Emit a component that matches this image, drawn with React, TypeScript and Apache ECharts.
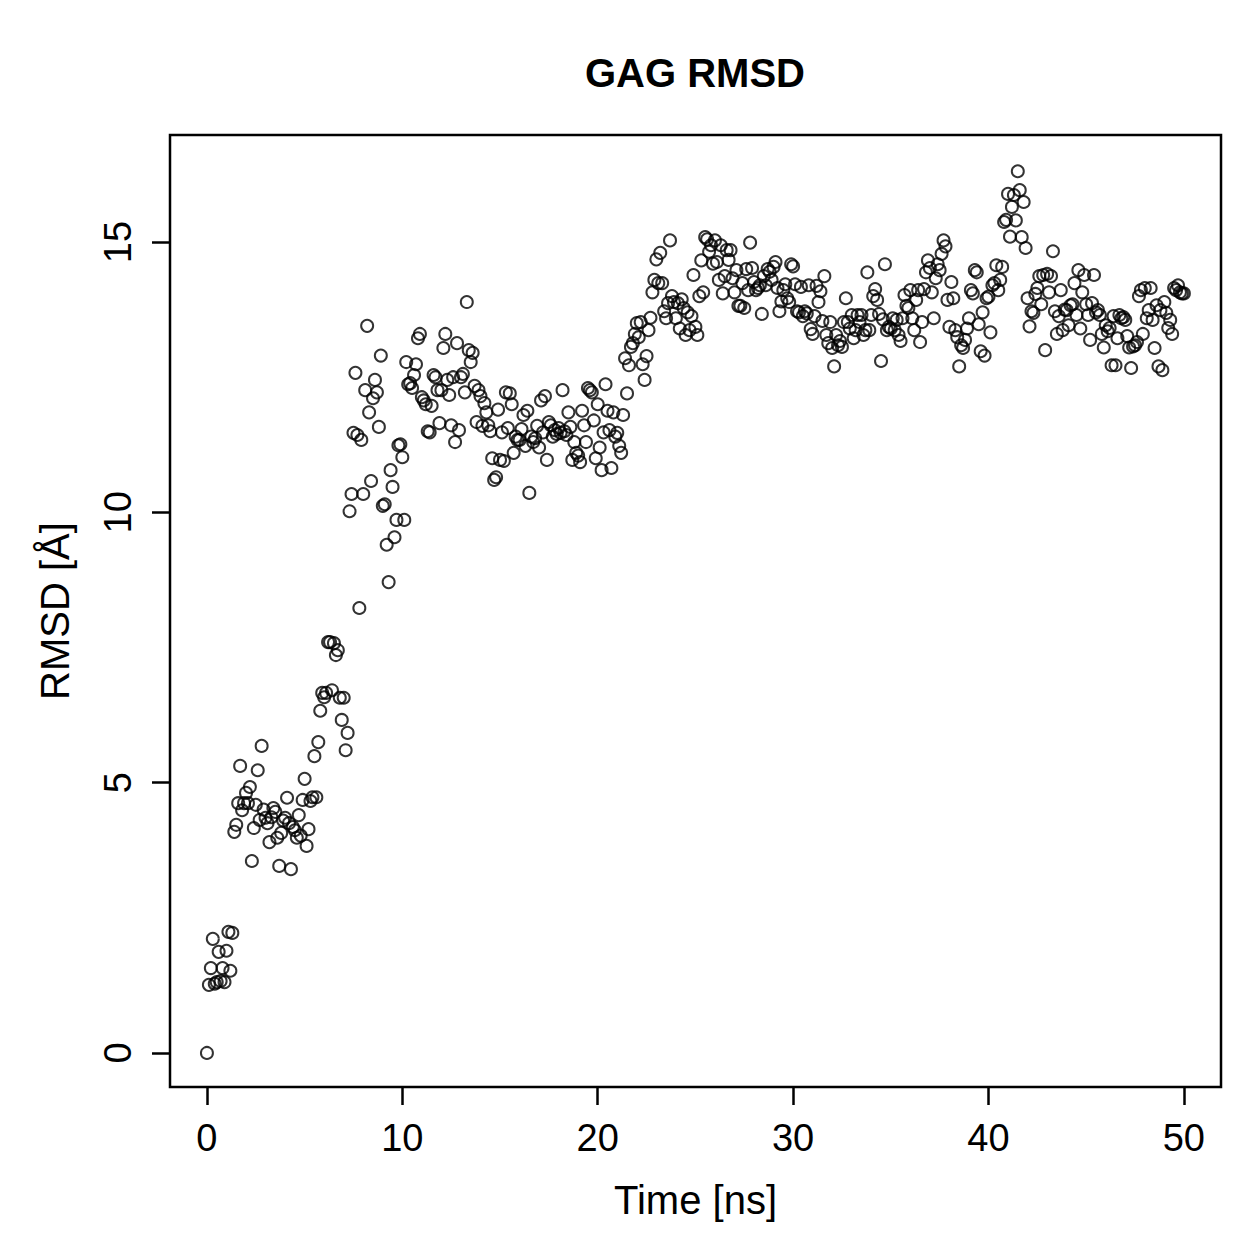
import React, { useEffect, useRef } from "react";
import * as echarts from "echarts";

// Sampling step of the trajectory (ns); point i sits at time i * TIME_STEP_NS
const TIME_STEP_NS = 0.1;

// RMSD values (Å), one list per nanosecond (10 frames each)
const rmsd00 = [0, 1.26, 1.57, 2.11, 1.28, 1.31, 1.87, 1.33, 1.57, 1.31];
const rmsd01 = [1.89, 2.24, 1.52, 2.22, 4.09, 4.22, 4.62, 5.31, 4.49, 4.62];
const rmsd02 = [4.81, 4.62, 4.92, 3.55, 4.16, 4.59, 5.23, 4.31, 5.68, 4.5];
const rmsd03 = [4.35, 4.25, 3.9, 4.36, 4.53, 4.46, 3.98, 3.46, 4.07, 4.3];
const rmsd04 = [4.35, 4.72, 4.25, 3.4, 4.18, 4.12, 3.98, 4.4, 4.02, 4.68];
const rmsd05 = [5.07, 3.83, 4.14, 4.66, 4.73, 5.49, 4.73, 5.75, 6.33, 6.66];
const rmsd06 = [6.58, 6.66, 7.6, 7.6, 6.71, 7.58, 7.36, 7.45, 6.57, 6.16];
const rmsd07 = [6.57, 5.6, 5.92, 10.02, 10.34, 11.47, 12.58, 11.43, 8.23, 11.34];
const rmsd08 = [10.34, 12.26, 13.45, 11.85, 10.58, 12.11, 12.45, 12.22, 11.58, 12.9];
const rmsd09 = [10.12, 10.15, 9.4, 8.71, 10.78, 10.47, 9.54, 9.86, 11.24, 11.26];
const rmsd10 = [11.02, 9.86, 12.78, 12.37, 12.39, 12.3, 12.54, 12.74, 13.22, 13.3];
const rmsd11 = [12.13, 12.07, 12.0, 11.5, 11.48, 11.97, 12.54, 12.5, 12.26, 11.65];
const rmsd12 = [12.26, 13.04, 13.3, 12.45, 12.17, 11.61, 12.5, 11.3, 13.13, 11.52];
const rmsd13 = [12.5, 12.56, 12.22, 13.89, 13.0, 12.78, 12.95, 12.34, 11.67, 12.26];
const rmsd14 = [12.15, 11.6, 12.02, 11.85, 11.61, 11.5, 11.0, 10.6, 10.65, 11.9];
const rmsd15 = [10.97, 11.48, 10.95, 12.22, 11.56, 12.2, 12.0, 11.1, 11.4, 11.34];
const rmsd16 = [11.34, 11.54, 11.8, 11.23, 11.88, 10.36, 11.4, 11.3, 11.37, 11.6];
const rmsd17 = [11.2, 12.07, 11.48, 12.15, 10.97, 11.67, 11.61, 11.4, 11.52, 11.45];
const rmsd18 = [11.56, 11.47, 12.26, 11.5, 11.43, 11.85, 11.58, 10.97, 11.3, 11.1];
const rmsd19 = [11.05, 10.93, 11.88, 11.61, 11.3, 12.3, 12.26, 12.22, 11.7, 11.0];
const rmsd20 = [12.0, 11.2, 10.78, 11.48, 12.37, 11.88, 11.52, 10.82, 11.85, 11.4];
const rmsd21 = [11.47, 11.23, 11.1, 11.8, 12.85, 12.2, 12.72, 13.06, 13.13, 13.3];
const rmsd22 = [13.5, 13.24, 13.52, 12.74, 12.45, 12.89, 13.37, 13.6, 14.07, 14.3];
const rmsd23 = [14.68, 14.24, 14.8, 14.24, 13.72, 13.59, 13.87, 15.03, 14.0, 13.89];
const rmsd24 = [13.59, 13.87, 13.4, 13.94, 13.78, 13.28, 13.7, 13.37, 13.63, 14.39];
const rmsd25 = [13.43, 13.28, 14.0, 14.66, 14.07, 15.09, 15.05, 14.82, 14.94, 14.6];
const rmsd26 = [15.03, 14.63, 14.3, 14.94, 14.05, 14.37, 14.85, 14.67, 14.85, 14.33];
const rmsd27 = [14.07, 14.48, 13.82, 13.82, 14.24, 13.78, 14.5, 14.11, 14.99, 14.52];
const rmsd28 = [14.26, 14.11, 14.15, 14.2, 13.67, 14.37, 14.2, 14.5, 14.45, 14.3];
const rmsd29 = [14.54, 14.63, 14.15, 13.72, 13.9, 14.11, 14.22, 13.96, 13.89, 14.59];
const rmsd30 = [14.55, 14.22, 13.72, 13.7, 14.17, 13.63, 13.72, 13.68, 14.2, 13.39];
const rmsd31 = [13.3, 13.63, 14.19, 13.89, 14.09, 13.54, 14.37, 13.28, 13.13, 13.52];
const rmsd32 = [13.04, 12.7, 13.28, 13.09, 13.17, 13.06, 13.52, 13.96, 13.52, 13.4];
const rmsd33 = [13.65, 13.22, 13.37, 13.65, 13.52, 13.65, 13.28, 13.37, 14.44, 13.37];
const rmsd34 = [13.65, 14.0, 14.13, 13.93, 13.67, 12.8, 13.57, 14.59, 13.37, 13.43];
const rmsd35 = [13.4, 13.59, 13.37, 13.56, 13.28, 13.17, 13.59, 14.02, 13.82, 13.78];
const rmsd36 = [14.11, 13.59, 13.37, 13.93, 14.11, 13.15, 13.52, 14.13, 14.44, 14.66];
const rmsd37 = [14.52, 14.07, 13.59, 14.33, 14.59, 14.48, 14.78, 15.03, 14.92, 13.93];
const rmsd38 = [13.43, 14.26, 13.96, 13.37, 13.24, 12.7, 13.09, 13.04, 13.19, 13.4];
const rmsd39 = [13.59, 14.11, 14.05, 14.48, 14.44, 13.48, 12.98, 13.7, 12.9, 13.96];
const rmsd40 = [13.99, 13.33, 14.2, 14.24, 14.57, 14.11, 14.3, 14.54, 15.37, 15.41];
const rmsd41 = [15.89, 15.1, 15.65, 15.87, 15.4, 16.31, 15.96, 15.09, 15.74, 14.89];
const rmsd42 = [13.96, 13.44, 13.72, 13.69, 14.04, 14.15, 14.37, 13.85, 14.39, 13.0];
const rmsd43 = [14.41, 14.07, 14.37, 14.83, 13.72, 13.3, 13.63, 14.11, 13.37, 13.75];
const rmsd44 = [13.74, 13.46, 13.83, 13.85, 14.24, 13.65, 14.48, 13.4, 14.07, 14.39];
const rmsd45 = [13.85, 13.65, 13.19, 13.87, 14.39, 13.7, 13.74, 13.65, 13.3, 13.05];
const rmsd46 = [13.46, 13.35, 13.41, 12.72, 13.63, 12.72, 13.22, 13.65, 13.59, 13.61];
const rmsd47 = [13.56, 13.26, 13.05, 12.67, 13.07, 13.09, 13.15, 14.0, 14.11, 13.3];
const rmsd48 = [14.15, 13.59, 13.74, 14.15, 13.56, 13.04, 13.83, 12.7, 13.74, 12.63];
const rmsd49 = [13.89, 13.69, 13.41, 13.56, 13.3, 14.15, 14.11, 14.2, 14.07, 14.05];
const rmsd50 = [14.05];

const rmsdValues: number[] = [
  ...rmsd00, ...rmsd01, ...rmsd02, ...rmsd03, ...rmsd04, ...rmsd05, ...rmsd06, ...rmsd07, ...rmsd08, ...rmsd09,
  ...rmsd10, ...rmsd11, ...rmsd12, ...rmsd13, ...rmsd14, ...rmsd15, ...rmsd16, ...rmsd17, ...rmsd18, ...rmsd19,
  ...rmsd20, ...rmsd21, ...rmsd22, ...rmsd23, ...rmsd24, ...rmsd25, ...rmsd26, ...rmsd27, ...rmsd28, ...rmsd29,
  ...rmsd30, ...rmsd31, ...rmsd32, ...rmsd33, ...rmsd34, ...rmsd35, ...rmsd36, ...rmsd37, ...rmsd38, ...rmsd39,
  ...rmsd40, ...rmsd41, ...rmsd42, ...rmsd43, ...rmsd44, ...rmsd45, ...rmsd46, ...rmsd47, ...rmsd48, ...rmsd49,
  ...rmsd50,
];

const xTicks = [0, 10, 20, 30, 40, 50];
const yTicks = [0, 5, 10, 15];

const FONT = "'Liberation Sans', Arial, Helvetica, sans-serif";

export default function App() {
  const ref = useRef<HTMLDivElement>(null);

  useEffect(() => {
    if (!ref.current) return;
    const chart = echarts.init(ref.current, undefined, { renderer: "svg" });
    const points = rmsdValues.map((v, i) => [Math.round(i * TIME_STEP_NS * 10) / 10, v]);

    chart.setOption({
      animation: false,
      backgroundColor: "#ffffff",
      title: {
        text: "GAG RMSD",
        left: 690,
        top: 48,
        textAlign: "center",
        textStyle: { fontFamily: FONT, fontSize: 40, fontWeight: "bold", color: "#000" },
      },
      grid: {
        left: 170,
        right: 38,
        top: 135,
        bottom: 172,
        show: true,
        borderColor: "#000",
        borderWidth: 2.5,
        backgroundColor: "transparent",
        containLabel: false,
        outerBoundsMode: "none",
      },
      xAxis: {
        type: "value",
        position: "bottom",
        min: -1.89,
        max: 51.9,
        name: "Time [ns]",
        nameLocation: "middle",
        nameGap: 93,
        nameTextStyle: { fontFamily: FONT, fontSize: 40, color: "#000" },
        axisLine: { show: false, onZero: false },
        splitLine: { show: false },
        axisTick: {
          show: true,
          inside: false,
          length: 18,
          customValues: xTicks,
          lineStyle: { color: "#000", width: 2.5 },
        },
        axisLabel: {
          customValues: xTicks,
          fontFamily: FONT,
          fontSize: 38,
          color: "#000",
          margin: 32,
        },
      },
      yAxis: {
        type: "value",
        position: "left",
        min: -0.63,
        max: 16.98,
        name: "RMSD [Å]",
        nameLocation: "middle",
        nameGap: 95,
        nameTextStyle: { fontFamily: FONT, fontSize: 40, color: "#000" },
        axisLine: { show: false, onZero: false },
        splitLine: { show: false },
        axisTick: {
          show: true,
          inside: false,
          length: 18,
          customValues: yTicks,
          lineStyle: { color: "#000", width: 2.5 },
        },
        axisLabel: {
          customValues: yTicks,
          rotate: 90,
          fontFamily: FONT,
          fontSize: 38,
          color: "#000",
          margin: 33,
        },
      },
      series: [
        {
          type: "scatter",
          data: points,
          symbol: "circle",
          symbolSize: 12,
          itemStyle: { color: "rgba(0,0,0,0)", borderColor: "#000", borderWidth: 2 },
          emphasis: { disabled: true },
        },
      ],
    });

    return () => chart.dispose();
  }, []);

  return (
    <div
      ref={ref}
      style={{ position: "absolute", left: 0, top: 0, width: 1259, height: 1259 }}
    />
  );
}
